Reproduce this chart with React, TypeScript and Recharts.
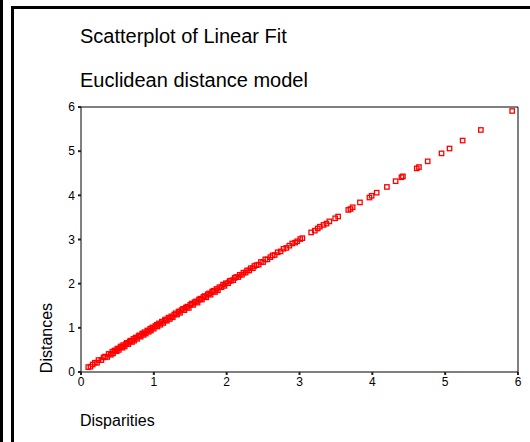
import { ScatterChart, Scatter, XAxis, YAxis, ReferenceLine } from 'recharts'

// values
const disparities = [
  0.10, 0.13, 0.16, 0.19, 0.22, 0.24, 0.28, 0.31, 0.33, 0.36,
  0.38, 0.41, 0.43, 0.44, 0.46, 0.47, 0.49, 0.50, 0.52, 0.54,
  0.55, 0.57, 0.58, 0.60, 0.62, 0.63, 0.65, 0.67, 0.68, 0.70,
  0.72, 0.73, 0.75, 0.77, 0.79, 0.80, 0.82, 0.84, 0.86, 0.87,
  0.89, 0.91, 0.93, 0.95, 0.96, 0.98, 1.00, 1.02, 1.04, 1.05,
  1.07, 1.09, 1.11, 1.13, 1.15, 1.16, 1.18, 1.20, 1.22, 1.24,
  1.26, 1.28, 1.30, 1.32, 1.34, 1.36, 1.38, 1.40, 1.42, 1.44,
  1.46, 1.48, 1.50, 1.52, 1.54, 1.56, 1.58, 1.60, 1.62, 1.64,
  1.66, 1.68, 1.70, 1.72, 1.74, 1.76, 1.78, 1.80, 1.82, 1.84,
  1.86, 1.88, 1.90, 1.93, 1.95, 1.97, 1.99, 2.02, 2.04, 2.06,
  2.09, 2.11, 2.13, 2.16, 2.18, 2.21, 2.23, 2.26, 2.28, 2.31,
  2.33, 2.36, 2.38, 2.41, 2.44, 2.47, 2.50, 2.53, 2.56, 2.60,
  2.63, 2.66, 2.70, 2.74, 2.78, 2.82, 2.86, 2.90, 2.94, 2.97,
  3.01, 3.04, 3.16, 3.21, 3.25, 3.28, 3.33, 3.37, 3.41, 3.49,
  3.53, 3.67, 3.70, 3.73, 3.83, 3.96, 3.99, 4.06, 4.20, 4.32,
  4.40, 4.42, 4.61, 4.64, 4.76, 4.95, 5.06, 5.24, 5.49, 5.92,
]

const distances = [
  0.11, 0.12, 0.17, 0.21, 0.21, 0.27, 0.27, 0.33, 0.35, 0.34,
  0.41, 0.39, 0.46, 0.42, 0.48, 0.49, 0.47, 0.53, 0.50, 0.56,
  0.58, 0.55, 0.61, 0.58, 0.64, 0.66, 0.63, 0.69, 0.71, 0.68,
  0.75, 0.71, 0.78, 0.75, 0.81, 0.83, 0.80, 0.87, 0.84, 0.90,
  0.87, 0.94, 0.91, 0.98, 0.94, 1.01, 0.98, 1.04, 1.07, 1.03,
  1.10, 1.07, 1.14, 1.11, 1.17, 1.19, 1.16, 1.23, 1.20, 1.26,
  1.24, 1.30, 1.33, 1.30, 1.37, 1.34, 1.40, 1.43, 1.40, 1.46,
  1.48, 1.45, 1.52, 1.55, 1.52, 1.58, 1.60, 1.57, 1.64, 1.66,
  1.64, 1.70, 1.72, 1.69, 1.76, 1.78, 1.75, 1.82, 1.84, 1.81,
  1.88, 1.85, 1.92, 1.92, 1.98, 1.95, 2.01, 2.01, 2.06, 2.07,
  2.08, 2.13, 2.15, 2.15, 2.20, 2.20, 2.25, 2.25, 2.30, 2.30,
  2.35, 2.35, 2.40, 2.42, 2.43, 2.49, 2.49, 2.55, 2.55, 2.60,
  2.64, 2.65, 2.71, 2.73, 2.79, 2.81, 2.86, 2.91, 2.93, 2.96,
  3.01, 3.03, 3.16, 3.20, 3.25, 3.29, 3.33, 3.36, 3.41, 3.48,
  3.52, 3.67, 3.69, 3.73, 3.84, 3.95, 3.99, 4.06, 4.19, 4.32,
  4.41, 4.43, 4.61, 4.64, 4.77, 4.95, 5.06, 5.24, 5.48, 5.91,
]

const axisTicks = [0, 1, 2, 3, 4, 5, 6]

const FONT = "Arial, 'Liberation Sans', Helvetica, sans-serif"

const points = disparities.map((d, i) => ({ x: d, y: distances[i] }))

// hollow red square marker
const SquareMarker = (props: any) => {
  const { cx, cy } = props
  if (cx == null || cy == null) return null
  return (
    <rect x={cx - 2.2} y={cy - 2.2} width={4.4} height={4.4} fill="none" stroke="#ff0000" strokeWidth={1.3} />
  )
}

const line = (style: React.CSSProperties) => (
  <div style={{ position: 'absolute', background: '#000', ...style }} />
)

export default function App() {
  return (
    <div style={{ position: 'absolute', left: 0, top: 0, width: 530, height: 442, background: '#fff', fontFamily: FONT, overflow: 'hidden' }}>
      {line({ left: 0, top: 0, width: 3, height: 442 })}
      {line({ left: 11, top: 6, width: 3, height: 436 })}
      {line({ left: 11, top: 6, width: 519, height: 3 })}

      <div style={{ position: 'absolute', left: 80, top: 26, fontSize: 20, lineHeight: '20px', whiteSpace: 'nowrap' }}>
        Scatterplot of Linear Fit
      </div>
      <div style={{ position: 'absolute', left: 80, top: 70, fontSize: 20, lineHeight: '20px', whiteSpace: 'nowrap' }}>
        Euclidean distance model
      </div>
      <div style={{ position: 'absolute', left: 80, top: 413, fontSize: 16, lineHeight: '16px', whiteSpace: 'nowrap' }}>
        Disparities
      </div>
      <div
        style={{
          position: 'absolute',
          left: 47,
          top: 338,
          fontSize: 16,
          lineHeight: '16px',
          whiteSpace: 'nowrap',
          transform: 'translate(-50%, -50%) rotate(-90deg)',
        }}
      >
        Distances
      </div>

      <div style={{ position: 'absolute', left: 0, top: 0 }}>
        <ScatterChart width={530} height={442} margin={{ top: 107, right: 12, bottom: 50, left: 0 }}>
          <XAxis
            type="number"
            dataKey="x"
            domain={[0, 6]}
            ticks={axisTicks}
            height={20}
            tickSize={3}
            tickMargin={2}
            axisLine={{ stroke: '#000' }}
            tickLine={{ stroke: '#222', strokeWidth: 2 }}
            tick={{ fill: '#000', fontSize: 12, fontFamily: FONT }}
          />
          <YAxis
            type="number"
            dataKey="y"
            domain={[0, 6]}
            ticks={axisTicks}
            width={81}
            tickSize={3}
            tickMargin={3}
            axisLine={{ stroke: '#000' }}
            tickLine={{ stroke: '#222', strokeWidth: 2 }}
            tick={{ fill: '#000', fontSize: 12, fontFamily: FONT }}
          />
          <ReferenceLine y={6} stroke="#000" />
          <ReferenceLine x={6} stroke="#000" />
          <Scatter data={points} shape={SquareMarker} isAnimationActive={false} />
        </ScatterChart>
      </div>
    </div>
  )
}
